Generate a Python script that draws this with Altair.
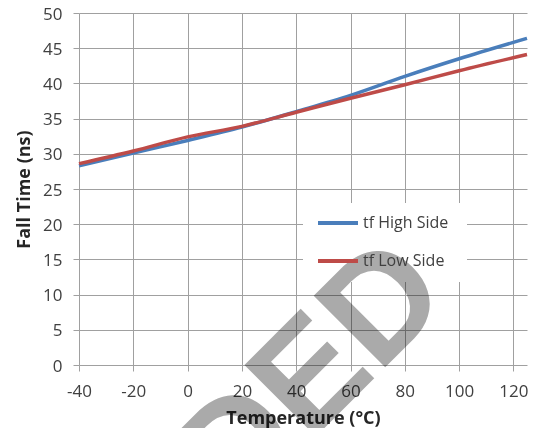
import altair as alt
import pandas as pd

# ---- data ----
temps = [-40, -20, 0, 20, 40, 60, 80, 100, 125]
high_side = [28.3, 30.1, 31.9, 33.8, 36.0, 38.3, 41.0, 43.5, 46.4]
low_side = [28.6, 30.4, 32.4, 33.9, 35.9, 37.9, 39.8, 41.8, 44.1]
series_names = ["tf High Side", "tf Low Side"]
series_colors = ["#4a7ebb", "#be4b48"]
x_ticks = [-40, -20, 0, 20, 40, 60, 80, 100, 120]
y_ticks = [0, 5, 10, 15, 20, 25, 30, 35, 40, 45, 50]
x_title = "Temperature (°C)"
y_title = "Fall Time (ns)"
watermark_text = ["RECOMMENDED"]
watermark_temp = [97.9]
watermark_val = [9.36]

df = pd.DataFrame({
    "Temperature": temps + temps,
    "Fall Time": high_side + low_side,
    "Series": [series_names[0]] * len(temps) + [series_names[1]] * len(temps),
})
wm_df = pd.DataFrame({
    "Temperature": watermark_temp,
    "Fall Time": watermark_val,
    "label": watermark_text,
})

FONT = "Open Sans"
GRID = "#a0a0a0"

x_enc = alt.X(
    "Temperature:Q",
    scale=alt.Scale(domain=[-40, 125], nice=False, zero=False),
    axis=alt.Axis(
        values=x_ticks, title=x_title, grid=True, gridColor=GRID, domain=False,
        tickColor=GRID, tickSize=6, labelFont=FONT, labelFontSize=17,
        labelColor="#404040", labelPadding=12, labelExpr="'' + datum.value",
        labelOverlap=False, labelFlush=False,
        titleFont=FONT, titleFontSize=18,
        titleFontWeight="bold", titleColor="#262626", titlePadding=10,
    ),
)
y_enc = alt.Y(
    "Fall Time:Q",
    scale=alt.Scale(domain=[0, 50], nice=False),
    axis=alt.Axis(
        values=y_ticks, title=y_title, grid=True, gridColor=GRID, domain=False,
        tickColor=GRID, tickSize=6, labelFont=FONT, labelFontSize=17,
        labelColor="#404040", labelPadding=11, labelExpr="'' + datum.value",
        labelOverlap=False, labelFlush=False, labelOffset=1,
        titleFont=FONT, titleFontSize=18,
        titleFontWeight="bold", titleColor="#262626", titlePadding=9,
    ),
)

lines = alt.Chart(df).mark_line(strokeWidth=3.5, interpolate="monotone").encode(
    x=x_enc,
    y=y_enc,
    color=alt.Color(
        "Series:N",
        scale=alt.Scale(domain=series_names, range=series_colors),
        legend=alt.Legend(
            orient="none", legendX=224, legendY=190, title=None,
            symbolType="stroke", symbolSize=1600, symbolStrokeWidth=4,
            clipHeight=38, rowPadding=0, padding=1, symbolOffset=12,
            labelFont=FONT, labelFontSize=16, labelColor="#404040", labelOffset=3,
        ),
    ),
)

# white background box of the legend (drawn under the watermark)
legend_box = alt.Chart(wm_df).mark_rect(color="white").encode(
    x=alt.value(224), x2=alt.value(388), y=alt.value(190), y2=alt.value(269),
)

watermark = alt.Chart(wm_df).mark_text(
    angle=315, align="right", baseline="alphabetic", font="Liberation Sans",
    fontWeight="bold", fontSize=147, color="#aaaaaa", blend="multiply",
).encode(
    x=x_enc,
    y=y_enc,
    text="label:N",
)

chart = alt.layer(lines, legend_box, watermark).properties(
    width=448,
    height=352,
    autosize=alt.AutoSizeParams(type="none"),
    padding={"left": 71, "top": 5, "right": 7, "bottom": 63},
).configure_view(stroke=None)

chart.save("out.html", embed_options={"renderer": "svg", "actions": False})
